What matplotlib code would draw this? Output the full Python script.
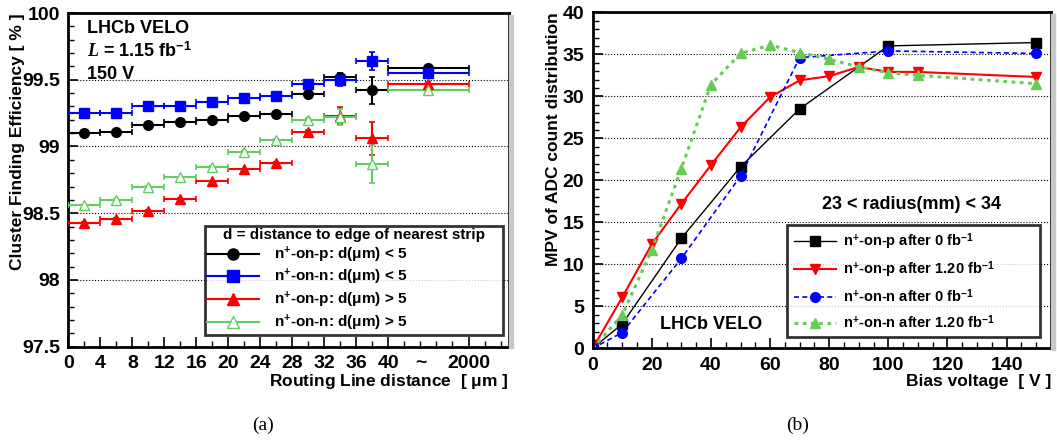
import matplotlib
matplotlib.use("Agg")
import matplotlib.pyplot as plt
from matplotlib.lines import Line2D

plt.rcParams['font.family'] = ['Liberation Sans', 'DejaVu Sans']
plt.rcParams['font.weight'] = 'bold'
plt.rcParams['axes.labelweight'] = 'bold'
plt.rcParams['mathtext.fontset'] = 'custom'
plt.rcParams['mathtext.rm'] = 'Liberation Sans:bold'
plt.rcParams['mathtext.bf'] = 'Liberation Sans:bold'
plt.rcParams['mathtext.it'] = 'Liberation Serif:italic'

# ---- panel (a): cluster finding efficiency vs routing line distance ----
bin_centres = [2, 6, 10, 14, 18, 22, 26, 30, 34, 38, 45]
bin_halfwidth = [2, 2, 2, 2, 2, 2, 2, 2, 2, 2, 5]

eff_p_near = [99.10, 99.11, 99.16, 99.18, 99.20, 99.23, 99.24, 99.39, 99.52, 99.42, 99.585]
err_p_near = [0.005, 0.005, 0.005, 0.005, 0.005, 0.005, 0.005, 0.005, 0.03, 0.10, 0.01]
eff_n_near = [99.25, 99.25, 99.30, 99.30, 99.33, 99.36, 99.375, 99.47, 99.50, 99.64, 99.55]
err_n_near = [0.005, 0.005, 0.005, 0.005, 0.005, 0.005, 0.005, 0.005, 0.05, 0.07, 0.01]
eff_p_far = [98.43, 98.46, 98.52, 98.61, 98.74, 98.83, 98.88, 99.11, 99.23, 99.06, 99.47]
err_p_far = [0.005, 0.005, 0.005, 0.005, 0.005, 0.005, 0.005, 0.01, 0.065, 0.12, 0.01]
eff_n_far = [98.56, 98.60, 98.70, 98.77, 98.85, 98.96, 99.05, 99.20, 99.22, 98.87, 99.42]
err_n_far = [0.005, 0.005, 0.005, 0.005, 0.005, 0.005, 0.005, 0.01, 0.06, 0.14, 0.01]

xtick_pos = [0, 4, 8, 12, 16, 20, 24, 28, 32, 36, 40, 50]
xtick_lab = ['0', '4', '8', '12', '16', '20', '24', '28', '32', '36', '40', '2000']

# ---- panel (b): MPV vs bias voltage ----
volt_p0 = [0, 10, 30, 50, 70, 100, 150]
mpv_p0 = [0, 2.9, 13.1, 21.6, 28.5, 36.0, 36.4]
volt_p120 = [0, 10, 20, 30, 40, 50, 60, 70, 80, 90, 100, 110, 150]
mpv_p120 = [0, 6.07, 12.4, 17.2, 21.8, 26.3, 29.9, 31.9, 32.4, 33.5, 32.9, 32.9, 32.3]
volt_n0 = [0, 10, 30, 50, 70, 100, 150]
mpv_n0 = [0, 1.87, 10.7, 20.5, 34.6, 35.4, 35.1]
volt_n120 = [0, 10, 20, 30, 40, 50, 60, 70, 80, 90, 100, 110, 150]
mpv_n120 = [0, 3.97, 11.7, 21.4, 31.4, 35.1, 36.1, 35.2, 34.4, 33.5, 32.8, 32.5, 31.5]

green_a = '#5fcf5f'
green_b = '#66cc55'

fig = plt.figure(figsize=(10.57, 4.41), dpi=100)
ax1 = fig.add_axes([0.0646, 0.2138, 0.4165, 0.7567])
ax2 = fig.add_axes([0.5607, 0.2102, 0.4336, 0.7619])

# grey frame shadows on the right side
for ax in (ax1, ax2):
    pos = ax.get_position()
    fig.patches.append(plt.Rectangle((pos.x1, pos.y0 - 0.004), 0.004, pos.height,
                                     transform=fig.transFigure, color='#c8c8c8', zorder=0))

# panel (a)
series_a = [
    (eff_p_near, err_p_near, 'black', 'o', 'black', r'n$^{+}$-on-p: d($\mathbf{\mu}$m) < 5'),
    (eff_n_near, err_n_near, 'blue', 's', 'blue', r'n$^{+}$-on-n: d($\mathbf{\mu}$m) < 5'),
    (eff_p_far, err_p_far, 'red', '^', 'red', r'n$^{+}$-on-p: d($\mathbf{\mu}$m) > 5'),
    (eff_n_far, err_n_far, green_a, '^', 'white', r'n$^{+}$-on-n: d($\mathbf{\mu}$m) > 5'),
]
handles = []
for vals, errs, col, mk, face, lab in series_a:
    ax1.errorbar(bin_centres, vals, xerr=bin_halfwidth, yerr=errs, fmt=mk, color=col,
                 mfc=face, mec=col, ms=7, elinewidth=1.5, capsize=2, capthick=1.2, zorder=3)
    handles.append(Line2D([], [], color=col, marker=mk, mfc=face, mec=col, ms=8, lw=1.5))

ax1.set_xlim(0, 55)
ax1.set_ylim(97.5, 100)
ax1.set_yticks([97.5, 98, 98.5, 99, 99.5, 100], ['97.5', '98', '98.5', '99', '99.5', '100'])
ax1.set_yticks([97.5 + 0.1 * i for i in range(26)], minor=True)
ax1.set_xticks(xtick_pos, xtick_lab)
minor_pos = list(range(0, 56, 2))
ax1.set_xticks(minor_pos, ['~' if p == 44 else '' for p in minor_pos], minor=True)
ax1.grid(axis='y', which='major', linestyle=':', color='black', lw=0.8)
ax1.set_xlabel(r'Routing Line distance  [ $\mathbf{\mu}$m ]', fontsize=12.5, fontweight='bold', loc='right')
ax1.xaxis.set_label_coords(1.0, -0.075)
ax1.set_ylabel('Cluster Finding Efficiency [ % ]', fontsize=12.5, loc='top')
ax1.yaxis.label.set_fontweight('bold')
ax1.yaxis.set_label_coords(-0.098, 1.0)

ax1.text(0.043, 0.955, 'LHCb VELO', transform=ax1.transAxes, fontsize=13, va='center')
ax1.text(0.043, 0.885, r'$\mathit{L}$ = 1.15 fb$^{-1}$', transform=ax1.transAxes, fontsize=13, va='center')
ax1.text(0.043, 0.817, '150 V', transform=ax1.transAxes, fontsize=13, va='center')

leg1 = ax1.legend(handles, [s[5] for s in series_a], title='d = distance to edge of nearest strip',
                  loc='lower left', bbox_to_anchor=(0.3105, 0.035, 0.677, 0.328), mode='expand',
                  fontsize=11, title_fontsize=11, frameon=True, fancybox=False, borderaxespad=0,
                  handlelength=3.4, handletextpad=1.0, labelspacing=0.2, borderpad=0.15)
leg1.get_frame().set_edgecolor('black')
leg1.get_frame().set_linewidth(2)
leg1.get_title().set_fontweight('bold')

# panel (b)
ax2.plot(volt_p0, mpv_p0, color='black', lw=1.0, marker='s', ms=7, label=r'n$^{+}$-on-p after 0 fb$^{-1}$')
ax2.plot(volt_p120, mpv_p120, color='red', lw=1.5, marker='v', ms=7, label=r'n$^{+}$-on-p after 1.20 fb$^{-1}$')
ax2.plot(volt_n0, mpv_n0, color='blue', lw=1.2, ls=(0, (3, 2)), marker='o', ms=7, label=r'n$^{+}$-on-n after 0 fb$^{-1}$')
ax2.plot(volt_n120, mpv_n120, color=green_b, lw=2.2, ls=(0, (1.2, 1.5)), marker='^', ms=7, label=r'n$^{+}$-on-n after 1.20 fb$^{-1}$')

ax2.set_xlim(0, 155)
ax2.set_ylim(0, 40)
ax2.set_xticks(range(0, 141, 20))
ax2.set_xticks(range(0, 156, 5), minor=True)
ax2.set_yticks(range(0, 41, 5))
ax2.set_yticks(range(0, 41, 1), minor=True)
ax2.grid(axis='y', which='major', linestyle=':', color='black', lw=0.8)
ax2.set_xlabel('Bias voltage  [ V ]', fontsize=12.5, fontweight='bold', loc='right')
ax2.xaxis.set_label_coords(1.0, -0.075)
ax2.set_ylabel('MPV of ADC count distribution', fontsize=12.5, loc='top')
ax2.yaxis.label.set_fontweight('bold')
ax2.yaxis.set_label_coords(-0.068, 1.0)
ax2.text(0.695, 0.427, '23 < radius(mm) < 34', transform=ax2.transAxes, fontsize=13, ha='center', va='center')
ax2.text(0.258, 0.071, 'LHCb VELO', transform=ax2.transAxes, fontsize=13, ha='center', va='center')

leg2 = ax2.legend(loc='lower left', bbox_to_anchor=(0.424, 0.033, 0.551, 0.324), mode='expand',
                  fontsize=10.5, frameon=True, fancybox=False, borderaxespad=0,
                  handlelength=2.9, handletextpad=0.5, labelspacing=0.5, borderpad=0.45)
leg2.get_frame().set_edgecolor('black')
leg2.get_frame().set_linewidth(2)

for ax in (ax1, ax2):
    for sp in ax.spines.values():
        sp.set_linewidth(2)
    ax.tick_params(which='both', direction='in', labelsize=14, top=False, right=False)
    ax.tick_params(which='major', length=7, width=1.2, pad=6)
    ax.tick_params(which='minor', length=4, width=1.0, pad=6)
    for lab in ax.get_xticklabels(which='both') + ax.get_yticklabels(which='both'):
        lab.set_fontweight('bold')

fig.text(263 / 1057, 1 - 425 / 441, '(a)', family='Liberation Serif', fontweight='normal',
         fontsize=14, ha='center', va='center')
fig.text(798 / 1057, 1 - 425 / 441, '(b)', family='Liberation Serif', fontweight='normal',
         fontsize=14, ha='center', va='center')

fig.savefig('out.png', dpi=100)
